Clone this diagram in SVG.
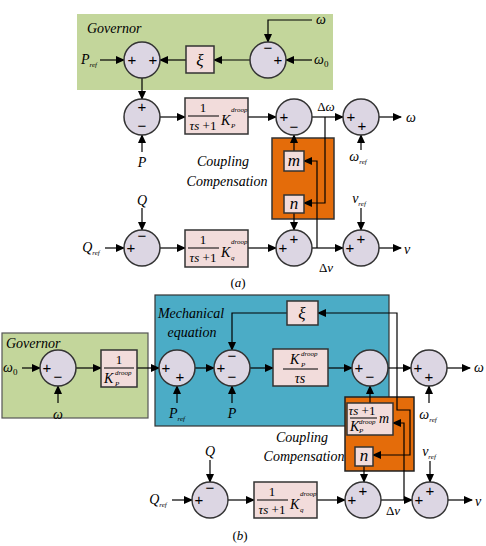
<svg xmlns="http://www.w3.org/2000/svg" width="486" height="546" viewBox="0 0 486 546" font-family="'Liberation Serif', 'DejaVu Serif', serif">
<defs>
<marker id="ah" markerWidth="9" markerHeight="8" refX="8" refY="4" orient="auto" markerUnits="userSpaceOnUse"><path d="M0,0 L9,4 L0,8 z" fill="#000"/></marker>
<style>
text{font-family:'Liberation Serif','DejaVu Serif',serif;fill:#000}
.it{font-style:italic}
.sum{fill:#dcd6e3;stroke:#333;stroke-width:1.5}
.blk{fill:#f2dcdb;stroke:#333;stroke-width:1.5}
.ar{fill:none;stroke:#000;stroke-width:1.2;marker-end:url(#ah)}
text.sg{font-family:'Liberation Sans','DejaVu Sans',sans-serif;font-size:15px;text-anchor:middle}
.lb{font-size:14px;font-style:italic}
.sb{font-size:7px;font-style:italic}
.mid{text-anchor:middle}
.fr{stroke:#000;stroke-width:1}
</style>
</defs>
<rect x="0" y="0" width="486" height="546" fill="#fff"/>

<!-- ===== (a) ===== -->
<g id="gov_a"><rect x="77" y="14" width="256" height="76" fill="#c3d69b"/><text x="87" y="33" class="it" font-size="14">Governor</text></g>
<g id="orange_a"><rect x="272" y="138" width="62" height="81" fill="#e46c0a" stroke="#333" stroke-width="1.5"/></g>

<g id="connectors">
<path class="ar" d="M100,60 H124"/>
<path class="ar" d="M250,60 H214"/>
<path class="ar" d="M186,60 H160"/>
<path class="ar" d="M312,20 H268 V42"/>
<path class="ar" d="M312,60 H286"/>
<path class="ar" d="M142,78 V99"/>
<path class="ar" d="M142,152 V135"/>
<path class="ar" d="M160,117 H185"/>
<path class="ar" d="M248,117 H276"/>
<path class="ar" d="M312,117 H343"/>
<path class="ar" d="M379,117 H401"/>
<path class="ar" d="M361,150 V135"/>
<path class="ar" d="M294,151 V135"/>
<path class="ar" d="M294,213 V230"/>
<path class="ar" d="M325,117 V203 H304"/>
<path class="ar" d="M317,248 V161 H304"/>
<path class="ar" d="M142,208 V230"/>
<path class="ar" d="M105,248 H124"/>
<path class="ar" d="M160,248 H185"/>
<path class="ar" d="M248,248 H276"/>
<path class="ar" d="M312,248 H343"/>
<path class="ar" d="M361,208 V230"/>
<path class="ar" d="M379,248 H401"/>
</g>

<g id="sum_a1"><circle class="sum" cx="142" cy="60" r="18"/><text class="sg" x="132" y="65">+</text><text class="sg" x="153" y="65">+</text></g>
<g id="xi_a"><rect class="blk" x="186" y="46" width="28" height="27"/><text x="200" y="66" class="it mid" font-size="17">ξ</text></g>
<g id="sum_a2"><circle class="sum" cx="268" cy="60" r="18"/><text class="sg" x="268" y="53">−</text><text class="sg" x="278" y="65">+</text></g>
<text x="89" y="64" class="lb mid">P<tspan class="sb" dy="3">ref</tspan></text>
<text x="316" y="24" class="lb" font-size="16">ω</text>
<text x="314" y="64" class="lb" font-size="15">ω<tspan font-size="9" dy="3" font-style="normal">0</tspan></text>

<g id="sum_a3"><circle class="sum" cx="142" cy="117" r="18"/><text class="sg" x="142" y="112">+</text><text class="sg" x="142" y="131">−</text></g>
<text x="142" y="167" class="lb mid" font-size="15">P</text>
<g id="blk_a1"><rect class="blk" x="185" y="98" width="63" height="36"/>
<text x="203" y="112" class="mid" font-size="13">1</text><line class="fr" x1="188" y1="116" x2="219" y2="116"/>
<text x="203" y="130" class="mid" font-size="13"><tspan font-style="italic">τs</tspan> +1</text>
<text x="221" y="125" class="lb" font-size="15">K</text><text x="231" y="112" class="sb">droop</text><text x="231" y="128" class="sb">P</text></g>
<g id="sum_a4"><circle class="sum" cx="294" cy="117" r="18"/><text class="sg" x="284" y="122">+</text><text class="sg" x="294" y="132">−</text></g>
<text x="326" y="111" class="mid" font-size="13">Δ<tspan font-style="italic">ω</tspan></text>
<g id="sum_a5"><circle class="sum" cx="361" cy="117" r="18"/><text class="sg" x="351" y="122">+</text><text class="sg" x="362" y="131">+</text></g>
<text x="406" y="122" class="lb" font-size="18">ω</text>
<text x="358" y="161" class="lb mid">ω<tspan class="sb" dy="3">ref</tspan></text>
<g id="m_a"><rect class="blk" x="284" y="151" width="20" height="20"/><text x="294" y="166" class="it mid" font-size="17">m</text></g>
<g id="n_a"><rect class="blk" x="284" y="195" width="20" height="18"/><text x="294" y="209" class="it mid" font-size="17">n</text></g>
<text x="223" y="166" class="lb mid" font-size="13">Coupling</text>
<text x="227" y="186" class="lb mid" font-size="13">Compensation</text>

<g id="sum_a6"><circle class="sum" cx="142" cy="248" r="18"/><text class="sg" x="142" y="241">−</text><text class="sg" x="131" y="253">+</text></g>
<text x="142" y="205" class="lb mid" font-size="15">Q</text>
<text x="91" y="252" class="lb mid" font-size="15">Q<tspan class="sb" dy="3">ref</tspan></text>
<g id="blk_a2"><rect class="blk" x="185" y="230" width="63" height="37"/>
<text x="203" y="244" class="mid" font-size="13">1</text><line class="fr" x1="188" y1="248" x2="219" y2="248"/>
<text x="203" y="262" class="mid" font-size="13"><tspan font-style="italic">τs</tspan> +1</text>
<text x="221" y="257" class="lb" font-size="15">K</text><text x="231" y="244" class="sb">droop</text><text x="231" y="260" class="sb">q</text></g>
<g id="sum_a7"><circle class="sum" cx="294" cy="248" r="18"/><text class="sg" x="294" y="244">+</text><text class="sg" x="283" y="253">+</text></g>
<text x="326" y="272" class="mid" font-size="13">Δ<tspan font-style="italic">v</tspan></text>
<g id="sum_a8"><circle class="sum" cx="361" cy="248" r="18"/><text class="sg" x="361" y="244">+</text><text class="sg" x="350" y="253">+</text></g>
<text x="359" y="203" class="lb mid" font-size="15">v<tspan class="sb" dy="3">ref</tspan></text>
<text x="404" y="254" class="lb" font-size="18">v</text>
<text x="238" y="287" class="mid" font-size="13">(<tspan font-style="italic">a</tspan>)</text>

<!-- ===== (b) ===== -->
<g id="gov_b"><rect x="2" y="333" width="146" height="85" fill="#c3d69b" stroke="#555" stroke-width="1.2"/><text x="6" y="348" class="it" font-size="14">Governor</text></g>
<g id="mech_b"><rect x="155" y="295" width="234" height="131" fill="#4bacc6" stroke="#333" stroke-width="1.2"/>
<text x="191" y="318" class="lb mid" font-size="13">Mechanical</text><text x="192" y="337" class="lb mid" font-size="13">equation</text></g>
<g id="orange_b"><rect x="345" y="397" width="69" height="74" fill="#e46c0a" stroke="#222" stroke-width="1.5"/></g>

<g id="connectors_b">
<path class="ar" d="M22,368 H40"/>
<path class="ar" d="M58,403 V386"/>
<path class="ar" d="M76,368 H101"/>
<path class="ar" d="M137,368 H159"/>
<path class="ar" d="M177,403 V386"/>
<path class="ar" d="M195,368 H214"/>
<path class="ar" d="M232,403 V386"/>
<path class="ar" d="M287,313 H232 V350"/>
<path class="ar" d="M250,368 H273"/>
<path class="ar" d="M328,368 H352"/>
<path class="ar" d="M388,368 H411"/>
<path class="ar" d="M447,368 H470"/>
<path class="ar" d="M429,403 V386"/>
<path class="ar" d="M397,368 V313 H318"/>
<path class="ar" d="M397,368 V410 H410 V455 H373"/>
<path class="ar" d="M404,500 V423 H393"/>
<path class="ar" d="M370,403 V386"/>
<path class="ar" d="M364,466 V482"/>
<path class="ar" d="M210,460 V482"/>
<path class="ar" d="M172,500 H192"/>
<path class="ar" d="M228,500 H254"/>
<path class="ar" d="M317,500 H345"/>
<path class="ar" d="M381,500 H412"/>
<path class="ar" d="M430,461 V482"/>
<path class="ar" d="M448,500 H472"/>
</g>

<text x="3" y="372" class="lb" font-size="15">ω<tspan font-size="9" dy="3" font-style="normal">0</tspan></text>
<g id="sum_b1"><circle class="sum" cx="58" cy="368" r="18"/><text class="sg" x="47" y="373">+</text><text class="sg" x="58" y="382">−</text></g>
<text x="58" y="419" class="lb mid" font-size="15">ω</text>
<g id="blk_b1"><rect class="blk" x="101" y="350" width="36" height="37"/>
<text x="119" y="364" class="mid" font-size="13">1</text><line class="fr" x1="104" y1="368" x2="134" y2="368"/>
<text x="104" y="383" class="lb" font-size="15">K</text><text x="115" y="375" class="sb">droop</text><text x="115" y="386" class="sb">P</text></g>
<g id="sum_b2"><circle class="sum" cx="177" cy="368" r="18"/><text class="sg" x="166" y="373">+</text><text class="sg" x="180" y="382">+</text></g>
<text x="177" y="418" class="lb mid" font-size="15">P<tspan class="sb" dy="3">ref</tspan></text>
<g id="sum_b3"><circle class="sum" cx="232" cy="368" r="18"/><text class="sg" x="232" y="361">−</text><text class="sg" x="221" y="373">+</text><text class="sg" x="232" y="382">−</text></g>
<text x="232" y="418" class="lb mid" font-size="15">P</text>
<g id="xi_b"><rect class="blk" x="287" y="301" width="31" height="24"/><text x="302" y="319" class="it mid" font-size="17">ξ</text></g>
<g id="blk_b2"><rect class="blk" x="273" y="349" width="55" height="37"/>
<text x="290" y="364" class="lb" font-size="15">K</text><text x="301" y="356" class="sb">droop</text><text x="301" y="367" class="sb">P</text>
<line class="fr" x1="283" y1="369" x2="318" y2="369"/>
<text x="300" y="383" class="lb mid" font-size="14">τs</text></g>
<g id="sum_b4"><circle class="sum" cx="370" cy="368" r="18"/><text class="sg" x="359" y="373">+</text><text class="sg" x="370" y="382">−</text></g>
<g id="sum_b5"><circle class="sum" cx="429" cy="368" r="18"/><text class="sg" x="418" y="373">+</text><text class="sg" x="429" y="382">+</text></g>
<text x="474" y="372" class="lb" font-size="15">ω</text>
<text x="428" y="419" class="lb mid">ω<tspan class="sb" dy="3">ref</tspan></text>
<g id="m_b"><rect class="blk" x="347" y="403" width="46" height="32"/>
<text x="362" y="415" class="mid" font-size="13"><tspan font-style="italic">τs</tspan> +1</text>
<line class="fr" x1="350" y1="418" x2="377" y2="418"/>
<text x="350" y="431" class="lb" font-size="13">K</text><text x="359" y="424" class="sb" font-size="6">droop</text><text x="359" y="433" class="sb" font-size="6">P</text>
<text x="384" y="423" class="lb mid" font-size="13">m</text></g>
<g id="n_b"><rect class="blk" x="355" y="447" width="18" height="19"/><text x="364" y="461" class="it mid" font-size="17">n</text></g>
<text x="302" y="442" class="lb mid" font-size="13">Coupling</text>
<text x="304" y="461" class="lb mid" font-size="13">Compensation</text>

<g id="sum_b6"><circle class="sum" cx="210" cy="500" r="18"/><text class="sg" x="210" y="493">−</text><text class="sg" x="199" y="505">+</text></g>
<text x="210" y="456" class="lb mid" font-size="15">Q</text>
<text x="158" y="504" class="lb mid" font-size="15">Q<tspan class="sb" dy="3">ref</tspan></text>
<g id="blk_b3"><rect class="blk" x="254" y="482" width="63" height="36"/>
<text x="272" y="496" class="mid" font-size="13">1</text><line class="fr" x1="257" y1="500" x2="288" y2="500"/>
<text x="272" y="514" class="mid" font-size="13"><tspan font-style="italic">τs</tspan> +1</text>
<text x="290" y="509" class="lb" font-size="15">K</text><text x="300" y="496" class="sb">droop</text><text x="300" y="512" class="sb">q</text></g>
<g id="sum_b7"><circle class="sum" cx="363" cy="500" r="18"/><text class="sg" x="363" y="496">+</text><text class="sg" x="352" y="505">+</text></g>
<text x="393" y="515" class="mid" font-size="13">Δ<tspan font-style="italic">v</tspan></text>
<g id="sum_b8"><circle class="sum" cx="430" cy="500" r="18"/><text class="sg" x="430" y="496">+</text><text class="sg" x="419" y="505">+</text></g>
<text x="429" y="456" class="lb mid" font-size="15">v<tspan class="sb" dy="3">ref</tspan></text>
<text x="475" y="506" class="lb" font-size="18">v</text>
<text x="240" y="540" class="mid" font-size="13">(<tspan font-style="italic">b</tspan>)</text>
</svg>
